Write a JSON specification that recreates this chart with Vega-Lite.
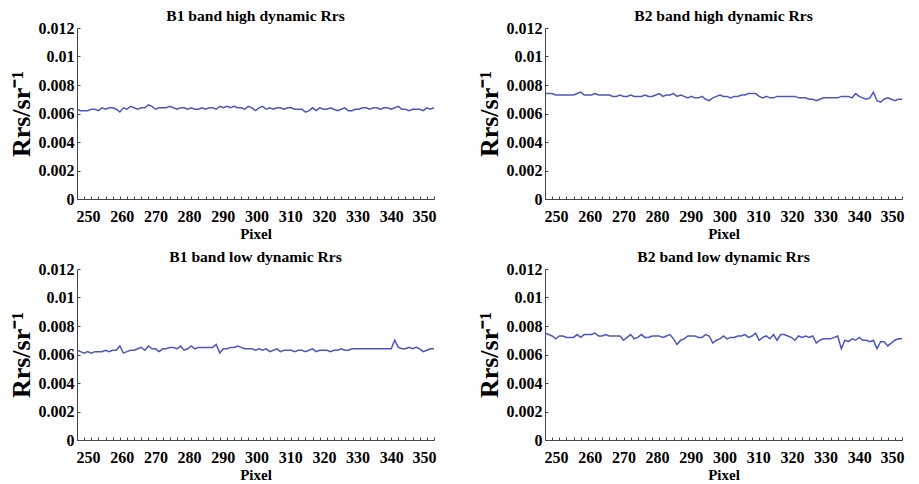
{
"$schema": "https://vega.github.io/schema/vega-lite/v6.json",
"background": "white",
"padding": {"left": 8, "top": 9, "right": 1, "bottom": 0},
"config": {
  "font": "Liberation Serif",
  "view": {"stroke": null},
  "title": {"font": "Liberation Serif", "fontSize": 15.6, "fontWeight": "bold", "color": "black", "offset": -5, "frame": "group"},
  "axis": {"labelFont": "Liberation Serif", "labelFontSize": 16, "labelFontWeight": "bold", "labelColor": "black", "titleFont": "Liberation Serif", "titleFontWeight": "bold", "titleColor": "black", "domainColor": "#444444", "tickColor": "#444444", "grid": false, "labelOverlap": false},
  "axisBottom": {"labelFlush": false, "labelOffset": {"condition": [{"test": "datum.value == 250", "value": 11}, {"test": "datum.value == 260", "value": 9}, {"test": "datum.value == 270", "value": 7}, {"test": "datum.value == 280", "value": 5}, {"test": "datum.value == 290", "value": 3}, {"test": "datum.value == 300", "value": 1}, {"test": "datum.value == 310", "value": -1}, {"test": "datum.value == 320", "value": -3}, {"test": "datum.value == 330", "value": -5}, {"test": "datum.value == 340", "value": -7}, {"test": "datum.value == 350", "value": -10}], "value": 0}}
},
"datasets": {
"d1": [{"p":250,"v":0.0063},{"p":251,"v":0.0062},{"p":252,"v":0.0062},{"p":253,"v":0.0062},{"p":254,"v":0.0063},{"p":255,"v":0.0063},{"p":256,"v":0.0062},{"p":257,"v":0.0064},{"p":258,"v":0.0063},{"p":259,"v":0.0064},
{"p":260,"v":0.0064},{"p":261,"v":0.0063},{"p":262,"v":0.0061},{"p":263,"v":0.0064},{"p":264,"v":0.0063},{"p":265,"v":0.0065},{"p":266,"v":0.0064},{"p":267,"v":0.0063},{"p":268,"v":0.0064},{"p":269,"v":0.0064},
{"p":270,"v":0.0066},{"p":271,"v":0.0065},{"p":272,"v":0.0063},{"p":273,"v":0.0064},{"p":274,"v":0.0064},{"p":275,"v":0.0064},{"p":276,"v":0.0065},{"p":277,"v":0.0064},{"p":278,"v":0.0063},{"p":279,"v":0.0064},
{"p":280,"v":0.0064},{"p":281,"v":0.0063},{"p":282,"v":0.0064},{"p":283,"v":0.0063},{"p":284,"v":0.0063},{"p":285,"v":0.0064},{"p":286,"v":0.0063},{"p":287,"v":0.0064},{"p":288,"v":0.0064},{"p":289,"v":0.0063},
{"p":290,"v":0.0065},{"p":291,"v":0.0064},{"p":292,"v":0.0065},{"p":293,"v":0.0064},{"p":294,"v":0.0065},{"p":295,"v":0.0064},{"p":296,"v":0.0064},{"p":297,"v":0.0063},{"p":298,"v":0.0065},{"p":299,"v":0.0064},
{"p":300,"v":0.0062},{"p":301,"v":0.0064},{"p":302,"v":0.0065},{"p":303,"v":0.0063},{"p":304,"v":0.0064},{"p":305,"v":0.0063},{"p":306,"v":0.0064},{"p":307,"v":0.0064},{"p":308,"v":0.0063},{"p":309,"v":0.0064},
{"p":310,"v":0.0064},{"p":311,"v":0.0063},{"p":312,"v":0.0063},{"p":313,"v":0.0063},{"p":314,"v":0.0061},{"p":315,"v":0.0062},{"p":316,"v":0.0064},{"p":317,"v":0.0062},{"p":318,"v":0.0064},{"p":319,"v":0.0063},
{"p":320,"v":0.0063},{"p":321,"v":0.0064},{"p":322,"v":0.0063},{"p":323,"v":0.0062},{"p":324,"v":0.0063},{"p":325,"v":0.0064},{"p":326,"v":0.0062},{"p":327,"v":0.0062},{"p":328,"v":0.0063},{"p":329,"v":0.0063},
{"p":330,"v":0.0064},{"p":331,"v":0.0064},{"p":332,"v":0.0063},{"p":333,"v":0.0064},{"p":334,"v":0.0064},{"p":335,"v":0.0063},{"p":336,"v":0.0064},{"p":337,"v":0.0064},{"p":338,"v":0.0063},{"p":339,"v":0.0064},
{"p":340,"v":0.0065},{"p":341,"v":0.0063},{"p":342,"v":0.0063},{"p":343,"v":0.0062},{"p":344,"v":0.0063},{"p":345,"v":0.0063},{"p":346,"v":0.0063},{"p":347,"v":0.0062},{"p":348,"v":0.0064},{"p":349,"v":0.0063},{"p":350,"v":0.0064}],
"d2": [{"p":250,"v":0.0074},{"p":251,"v":0.0074},{"p":252,"v":0.0074},{"p":253,"v":0.0073},{"p":254,"v":0.0073},{"p":255,"v":0.0073},{"p":256,"v":0.0073},{"p":257,"v":0.0073},{"p":258,"v":0.0073},{"p":259,"v":0.0074},
{"p":260,"v":0.0075},{"p":261,"v":0.0073},{"p":262,"v":0.0073},{"p":263,"v":0.0073},{"p":264,"v":0.0074},{"p":265,"v":0.0073},{"p":266,"v":0.0073},{"p":267,"v":0.0073},{"p":268,"v":0.0073},{"p":269,"v":0.0072},
{"p":270,"v":0.0072},{"p":271,"v":0.0073},{"p":272,"v":0.0072},{"p":273,"v":0.0072},{"p":274,"v":0.0073},{"p":275,"v":0.0072},{"p":276,"v":0.0072},{"p":277,"v":0.0072},{"p":278,"v":0.0073},{"p":279,"v":0.0072},
{"p":280,"v":0.0072},{"p":281,"v":0.0073},{"p":282,"v":0.0074},{"p":283,"v":0.0072},{"p":284,"v":0.0073},{"p":285,"v":0.0073},{"p":286,"v":0.0074},{"p":287,"v":0.0072},{"p":288,"v":0.0073},{"p":289,"v":0.0072},
{"p":290,"v":0.0071},{"p":291,"v":0.0072},{"p":292,"v":0.0071},{"p":293,"v":0.0071},{"p":294,"v":0.0072},{"p":295,"v":0.0070},{"p":296,"v":0.0069},{"p":297,"v":0.0071},{"p":298,"v":0.0072},{"p":299,"v":0.0073},
{"p":300,"v":0.0072},{"p":301,"v":0.0072},{"p":302,"v":0.0071},{"p":303,"v":0.0072},{"p":304,"v":0.0072},{"p":305,"v":0.0073},{"p":306,"v":0.0073},{"p":307,"v":0.0074},{"p":308,"v":0.0074},{"p":309,"v":0.0074},
{"p":310,"v":0.0072},{"p":311,"v":0.0071},{"p":312,"v":0.0072},{"p":313,"v":0.0071},{"p":314,"v":0.0071},{"p":315,"v":0.0072},{"p":316,"v":0.0072},{"p":317,"v":0.0072},{"p":318,"v":0.0072},{"p":319,"v":0.0072},
{"p":320,"v":0.0072},{"p":321,"v":0.0071},{"p":322,"v":0.0071},{"p":323,"v":0.0071},{"p":324,"v":0.0070},{"p":325,"v":0.0070},{"p":326,"v":0.0069},{"p":327,"v":0.0070},{"p":328,"v":0.0071},{"p":329,"v":0.0071},
{"p":330,"v":0.0071},{"p":331,"v":0.0071},{"p":332,"v":0.0071},{"p":333,"v":0.0072},{"p":334,"v":0.0072},{"p":335,"v":0.0072},{"p":336,"v":0.0071},{"p":337,"v":0.0074},{"p":338,"v":0.0072},{"p":339,"v":0.0071},
{"p":340,"v":0.0070},{"p":341,"v":0.0071},{"p":342,"v":0.0075},{"p":343,"v":0.0069},{"p":344,"v":0.0068},{"p":345,"v":0.0070},{"p":346,"v":0.0071},{"p":347,"v":0.0070},{"p":348,"v":0.0069},{"p":349,"v":0.0070},{"p":350,"v":0.0070}],
"d3": [{"p":250,"v":0.0063},{"p":251,"v":0.0062},{"p":252,"v":0.0061},{"p":253,"v":0.0062},{"p":254,"v":0.0061},{"p":255,"v":0.0062},{"p":256,"v":0.0062},{"p":257,"v":0.0062},{"p":258,"v":0.0063},{"p":259,"v":0.0062},
{"p":260,"v":0.0063},{"p":261,"v":0.0063},{"p":262,"v":0.0066},{"p":263,"v":0.0061},{"p":264,"v":0.0062},{"p":265,"v":0.0063},{"p":266,"v":0.0063},{"p":267,"v":0.0064},{"p":268,"v":0.0065},{"p":269,"v":0.0063},
{"p":270,"v":0.0066},{"p":271,"v":0.0064},{"p":272,"v":0.0064},{"p":273,"v":0.0062},{"p":274,"v":0.0064},{"p":275,"v":0.0064},{"p":276,"v":0.0065},{"p":277,"v":0.0065},{"p":278,"v":0.0064},{"p":279,"v":0.0066},
{"p":280,"v":0.0063},{"p":281,"v":0.0064},{"p":282,"v":0.0066},{"p":283,"v":0.0064},{"p":284,"v":0.0065},{"p":285,"v":0.0065},{"p":286,"v":0.0065},{"p":287,"v":0.0065},{"p":288,"v":0.0065},{"p":289,"v":0.0067},
{"p":290,"v":0.0061},{"p":291,"v":0.0064},{"p":292,"v":0.0064},{"p":293,"v":0.0065},{"p":294,"v":0.0065},{"p":295,"v":0.0066},{"p":296,"v":0.0065},{"p":297,"v":0.0064},{"p":298,"v":0.0064},{"p":299,"v":0.0064},
{"p":300,"v":0.0063},{"p":301,"v":0.0064},{"p":302,"v":0.0063},{"p":303,"v":0.0064},{"p":304,"v":0.0062},{"p":305,"v":0.0063},{"p":306,"v":0.0064},{"p":307,"v":0.0062},{"p":308,"v":0.0063},{"p":309,"v":0.0063},
{"p":310,"v":0.0063},{"p":311,"v":0.0062},{"p":312,"v":0.0063},{"p":313,"v":0.0063},{"p":314,"v":0.0062},{"p":315,"v":0.0063},{"p":316,"v":0.0064},{"p":317,"v":0.0062},{"p":318,"v":0.0063},{"p":319,"v":0.0063},
{"p":320,"v":0.0063},{"p":321,"v":0.0062},{"p":322,"v":0.0063},{"p":323,"v":0.0063},{"p":324,"v":0.0064},{"p":325,"v":0.0063},{"p":326,"v":0.0063},{"p":327,"v":0.0064},{"p":328,"v":0.0064},{"p":329,"v":0.0064},
{"p":330,"v":0.0064},{"p":331,"v":0.0064},{"p":332,"v":0.0064},{"p":333,"v":0.0064},{"p":334,"v":0.0064},{"p":335,"v":0.0064},{"p":336,"v":0.0064},{"p":337,"v":0.0064},{"p":338,"v":0.0064},{"p":339,"v":0.0070},
{"p":340,"v":0.0065},{"p":341,"v":0.0064},{"p":342,"v":0.0064},{"p":343,"v":0.0065},{"p":344,"v":0.0064},{"p":345,"v":0.0065},{"p":346,"v":0.0064},{"p":347,"v":0.0062},{"p":348,"v":0.0063},{"p":349,"v":0.0064},{"p":350,"v":0.0064}],
"d4": [{"p":250,"v":0.0075},{"p":251,"v":0.0074},{"p":252,"v":0.0073},{"p":253,"v":0.0071},{"p":254,"v":0.0073},{"p":255,"v":0.0073},{"p":256,"v":0.0072},{"p":257,"v":0.0072},{"p":258,"v":0.0072},{"p":259,"v":0.0074},
{"p":260,"v":0.0072},{"p":261,"v":0.0074},{"p":262,"v":0.0074},{"p":263,"v":0.0074},{"p":264,"v":0.0075},{"p":265,"v":0.0073},{"p":266,"v":0.0073},{"p":267,"v":0.0074},{"p":268,"v":0.0073},{"p":269,"v":0.0073},
{"p":270,"v":0.0073},{"p":271,"v":0.0073},{"p":272,"v":0.0070},{"p":273,"v":0.0072},{"p":274,"v":0.0074},{"p":275,"v":0.0071},{"p":276,"v":0.0072},{"p":277,"v":0.0074},{"p":278,"v":0.0072},{"p":279,"v":0.0072},
{"p":280,"v":0.0073},{"p":281,"v":0.0073},{"p":282,"v":0.0073},{"p":283,"v":0.0072},{"p":284,"v":0.0073},{"p":285,"v":0.0074},{"p":286,"v":0.0071},{"p":287,"v":0.0067},{"p":288,"v":0.0070},{"p":289,"v":0.0071},
{"p":290,"v":0.0073},{"p":291,"v":0.0073},{"p":292,"v":0.0073},{"p":293,"v":0.0072},{"p":294,"v":0.0072},{"p":295,"v":0.0074},{"p":296,"v":0.0073},{"p":297,"v":0.0068},{"p":298,"v":0.0070},{"p":299,"v":0.0071},
{"p":300,"v":0.0073},{"p":301,"v":0.0071},{"p":302,"v":0.0072},{"p":303,"v":0.0072},{"p":304,"v":0.0073},{"p":305,"v":0.0073},{"p":306,"v":0.0074},{"p":307,"v":0.0072},{"p":308,"v":0.0073},{"p":309,"v":0.0075},
{"p":310,"v":0.0070},{"p":311,"v":0.0072},{"p":312,"v":0.0073},{"p":313,"v":0.0071},{"p":314,"v":0.0074},{"p":315,"v":0.0070},{"p":316,"v":0.0074},{"p":317,"v":0.0074},{"p":318,"v":0.0073},{"p":319,"v":0.0072},
{"p":320,"v":0.0070},{"p":321,"v":0.0073},{"p":322,"v":0.0072},{"p":323,"v":0.0073},{"p":324,"v":0.0072},{"p":325,"v":0.0073},{"p":326,"v":0.0068},{"p":327,"v":0.0070},{"p":328,"v":0.0071},{"p":329,"v":0.0071},
{"p":330,"v":0.0071},{"p":331,"v":0.0072},{"p":332,"v":0.0073},{"p":333,"v":0.0064},{"p":334,"v":0.0070},{"p":335,"v":0.0069},{"p":336,"v":0.0071},{"p":337,"v":0.0070},{"p":338,"v":0.0072},{"p":339,"v":0.0070},
{"p":340,"v":0.0070},{"p":341,"v":0.0069},{"p":342,"v":0.0070},{"p":343,"v":0.0064},{"p":344,"v":0.0069},{"p":345,"v":0.0069},{"p":346,"v":0.0066},{"p":347,"v":0.0068},{"p":348,"v":0.0070},{"p":349,"v":0.0071},{"p":350,"v":0.0071}]
},
"spacing": 9,
"vconcat": [
{"spacing": 39, "hconcat": [
 {"data": {"name": "d1"}, "title": "B1 band high dynamic Rrs", "width": 357, "height": 171,
  "resolve": {"axis": {"x": "independent", "y": "independent"}},
  "layer": [
   {"mark": {"type": "line", "color": "#4a58b8", "strokeWidth": 1.5},
    "encoding": {
     "x": {"field": "p", "type": "quantitative", "scale": {"domain": [250, 350], "nice": false},
      "axis": {"orient": "bottom", "title": "Pixel", "titleFontSize": 15, "titlePadding": 2, "tickSize": -3, "labelPadding": 12, "values": [250,260,270,280,290,300,310,320,330,340,350]}},
     "y": {"field": "v", "type": "quantitative", "scale": {"domain": [0, 0.012], "nice": false},
      "axis": {"orient": "left", "title": "Rrs/sr⁻¹", "titleFontSize": 26, "titlePadding": 4, "tickSize": -3, "labelPadding": 6, "labelFlush": false, "labelOverlap": false, "format": "~g", "values": [0, 0.002, 0.004, 0.006, 0.008, 0.01, 0.012]}}}},
   {"mark": {"type": "line", "strokeOpacity": 0},
    "encoding": {
     "x": {"field": "p", "type": "quantitative", "axis": {"orient": "bottom", "title": null, "labels": false, "domain": false, "tickSize": -3, "values": [252,254,256,258,262,264,266,268,272,274,276,278,282,284,286,288,292,294,296,298,302,304,306,308,312,314,316,318,322,324,326,328,332,334,336,338,342,344,346,348]}},
     "y": {"field": "v", "type": "quantitative", "axis": null}}}
  ]},
 {"data": {"name": "d2"}, "title": "B2 band high dynamic Rrs", "width": 357, "height": 171,
  "resolve": {"axis": {"x": "independent", "y": "independent"}},
  "layer": [
   {"mark": {"type": "line", "color": "#4a58b8", "strokeWidth": 1.5},
    "encoding": {
     "x": {"field": "p", "type": "quantitative", "scale": {"domain": [250, 350], "nice": false},
      "axis": {"orient": "bottom", "title": "Pixel", "titleFontSize": 15, "titlePadding": 2, "tickSize": -3, "labelPadding": 12, "values": [250,260,270,280,290,300,310,320,330,340,350]}},
     "y": {"field": "v", "type": "quantitative", "scale": {"domain": [0, 0.012], "nice": false},
      "axis": {"orient": "left", "title": "Rrs/sr⁻¹", "titleFontSize": 26, "titlePadding": 4, "tickSize": -3, "labelPadding": 6, "labelFlush": false, "labelOverlap": false, "format": "~g", "values": [0, 0.002, 0.004, 0.006, 0.008, 0.01, 0.012]}}}},
   {"mark": {"type": "line", "strokeOpacity": 0},
    "encoding": {
     "x": {"field": "p", "type": "quantitative", "axis": {"orient": "bottom", "title": null, "labels": false, "domain": false, "tickSize": -3, "values": [252,254,256,258,262,264,266,268,272,274,276,278,282,284,286,288,292,294,296,298,302,304,306,308,312,314,316,318,322,324,326,328,332,334,336,338,342,344,346,348]}},
     "y": {"field": "v", "type": "quantitative", "axis": null}}}
  ]}
]},
{"spacing": 39, "hconcat": [
 {"data": {"name": "d3"}, "title": "B1 band low dynamic Rrs", "width": 357, "height": 171,
  "resolve": {"axis": {"x": "independent", "y": "independent"}},
  "layer": [
   {"mark": {"type": "line", "color": "#4a58b8", "strokeWidth": 1.5},
    "encoding": {
     "x": {"field": "p", "type": "quantitative", "scale": {"domain": [250, 350], "nice": false},
      "axis": {"orient": "bottom", "title": "Pixel", "titleFontSize": 15, "titlePadding": 2, "tickSize": -3, "labelPadding": 12, "values": [250,260,270,280,290,300,310,320,330,340,350]}},
     "y": {"field": "v", "type": "quantitative", "scale": {"domain": [0, 0.012], "nice": false},
      "axis": {"orient": "left", "title": "Rrs/sr⁻¹", "titleFontSize": 26, "titlePadding": 4, "tickSize": -3, "labelPadding": 6, "labelFlush": false, "labelOverlap": false, "format": "~g", "values": [0, 0.002, 0.004, 0.006, 0.008, 0.01, 0.012]}}}},
   {"mark": {"type": "line", "strokeOpacity": 0},
    "encoding": {
     "x": {"field": "p", "type": "quantitative", "axis": {"orient": "bottom", "title": null, "labels": false, "domain": false, "tickSize": -3, "values": [252,254,256,258,262,264,266,268,272,274,276,278,282,284,286,288,292,294,296,298,302,304,306,308,312,314,316,318,322,324,326,328,332,334,336,338,342,344,346,348]}},
     "y": {"field": "v", "type": "quantitative", "axis": null}}}
  ]},
 {"data": {"name": "d4"}, "title": "B2 band low dynamic Rrs", "width": 357, "height": 171,
  "resolve": {"axis": {"x": "independent", "y": "independent"}},
  "layer": [
   {"mark": {"type": "line", "color": "#4a58b8", "strokeWidth": 1.5},
    "encoding": {
     "x": {"field": "p", "type": "quantitative", "scale": {"domain": [250, 350], "nice": false},
      "axis": {"orient": "bottom", "title": "Pixel", "titleFontSize": 15, "titlePadding": 2, "tickSize": -3, "labelPadding": 12, "values": [250,260,270,280,290,300,310,320,330,340,350]}},
     "y": {"field": "v", "type": "quantitative", "scale": {"domain": [0, 0.012], "nice": false},
      "axis": {"orient": "left", "title": "Rrs/sr⁻¹", "titleFontSize": 26, "titlePadding": 4, "tickSize": -3, "labelPadding": 6, "labelFlush": false, "labelOverlap": false, "format": "~g", "values": [0, 0.002, 0.004, 0.006, 0.008, 0.01, 0.012]}}}},
   {"mark": {"type": "line", "strokeOpacity": 0},
    "encoding": {
     "x": {"field": "p", "type": "quantitative", "axis": {"orient": "bottom", "title": null, "labels": false, "domain": false, "tickSize": -3, "values": [252,254,256,258,262,264,266,268,272,274,276,278,282,284,286,288,292,294,296,298,302,304,306,308,312,314,316,318,322,324,326,328,332,334,336,338,342,344,346,348]}},
     "y": {"field": "v", "type": "quantitative", "axis": null}}}
  ]}
]}
]
}
